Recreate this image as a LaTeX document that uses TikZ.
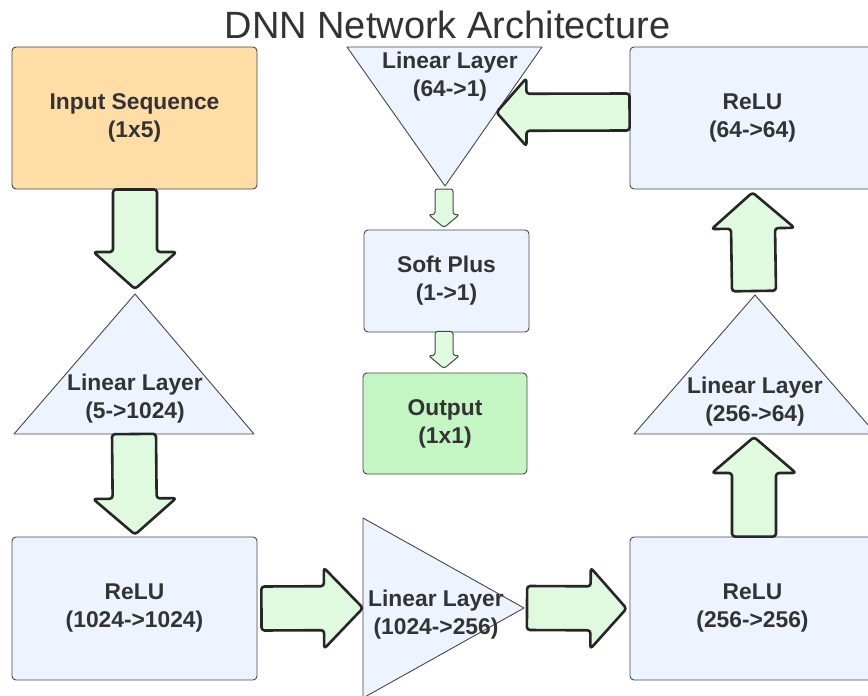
\documentclass[tikz,border=0pt]{standalone}
\usepackage{fontspec}
\setmainfont{Liberation Sans}
\usetikzlibrary{calc}
\definecolor{txt}{HTML}{333333}
\definecolor{bfill}{HTML}{EDF4FF}
\definecolor{ofill}{HTML}{FFDDA6}
\definecolor{gfill}{HTML}{C3F6C3}
\definecolor{afill}{HTML}{E0FAE0}
\definecolor{edge}{HTML}{484848}
\definecolor{aedge}{HTML}{262626}
\tikzset{
  lbl/.style={text=txt, font=\fontsize{22.8}{28}\selectfont\bfseries, align=center, inner sep=0pt},
  box/.style={lbl, draw=edge, line width=0.9pt, rounded corners=4pt, fill=bfill},
  tri/.style={draw=edge, line width=0.9pt, fill=bfill, line join=round},
  barrow/.style={draw=aedge, line width=2.6pt, fill=afill, rounded corners=3pt, line join=round},
  sarrow/.style={draw=edge, line width=1pt, fill=afill, rounded corners=2.5pt, line join=round}
}
% #1 style, #2 start, #3 end, #4 shaft half width, #5 head half width, #6 head length
\newcommand\blockarrow[6]{%
  \coordinate (ba-h) at ($(#3)!#6!(#2)$);
  \draw[#1] ($(#2)!#4!90:(#3)$) -- ($(ba-h)!#4!90:(#3)$) -- ($(ba-h)!#5!90:(#3)$)
    -- (#3) -- ($(ba-h)!#5!-90:(#3)$) -- ($(ba-h)!#4!-90:(#3)$) -- ($(#2)!#4!-90:(#3)$) -- cycle;
}
\begin{document}
\begin{tikzpicture}[x=1pt,y=-1pt]
\useasboundingbox (0,0) rectangle (868,696);
\clip (0,0) rectangle (868,696);
\fill[white] (0,0) rectangle (868,696);

% title
\node[text=txt, font=\fontsize{38}{42}\selectfont, inner sep=0pt, anchor=base] (title) at (447.5,38.5) {DNN Network Architecture};

% boxes
\node[box, fill=ofill, minimum width=245pt, minimum height=142pt] (in) at (134.5,118) {Input Sequence\\(1x5)};
\node[box, minimum width=245pt, minimum height=143pt] (relu1) at (134.5,608.5) {ReLU\\(1024->1024)};
\node[box, minimum width=245pt, minimum height=143pt] (relu2) at (752.5,608.5) {ReLU\\(256->256)};
\node[box, minimum width=245pt, minimum height=142pt] (relu3) at (752.5,118) {ReLU\\(64->64)};
\node[box, minimum width=165pt, minimum height=102pt] (soft) at (446.5,281) {Soft Plus\\(1->1)};
\node[box, fill=gfill, minimum width=164pt, minimum height=101pt] (out) at (445,423.5) {Output\\(1x1)};

% triangles
\coordinate (t1a) at (135,294); \coordinate (t1l) at (14,434); \coordinate (t1r) at (254,434);
\draw[tri] (t1a) -- (t1r) -- (t1l) -- cycle;
\node[lbl] (t1) at (135,399) {Linear Layer\\(5->1024)};

\coordinate (t3t) at (363,518); \coordinate (t3b) at (363,698); \coordinate (t3a) at (524,608);
\draw[tri] (t3t) -- (t3a) -- (t3b) -- cycle;
\node[lbl] (t3) at (436,614.5) {Linear Layer\\(1024->256)};

\coordinate (t2a) at (755,295); \coordinate (t2l) at (634,434); \coordinate (t2r) at (876,434);
\draw[tri] (t2a) -- (t2r) -- (t2l) -- cycle;
\node[lbl] (t2) at (755,402) {Linear Layer\\(256->64)};

\coordinate (t4l) at (347,47); \coordinate (t4r) at (542,47); \coordinate (t4a) at (445,186);
\draw[tri] (t4l) -- (t4r) -- (t4a) -- cycle;
\node[lbl] (t4) at (450,76.5) {Linear Layer\\(64->1)};

% block arrows
\blockarrow{barrow}{$(in.south)+(0.5,0)$}{$(t1a)+(0,-5)$}{22pt}{41.5pt}{37pt}
\blockarrow{barrow}{$(t1l)!0.5!(t1r)$}{$(relu1.north)+(0.5,-2)$}{22pt}{41.5pt}{36pt}
\blockarrow{barrow}{$(relu1.east)+(4,0)$}{$(t3t)!0.5!(t3b)$}{22pt}{40.5pt}{39pt}
\blockarrow{barrow}{$(t3a)+(3,0)$}{$(relu2.west)+(-3,0)$}{22pt}{40.5pt}{36pt}
\blockarrow{barrow}{$(relu2.north)+(1.5,0)$}{$(t2l)!0.5!(t2r)+(-1,3)$}{22pt}{42pt}{36pt}
\blockarrow{barrow}{$(t2a)+(-1,-4)$}{$(relu3.south)+(0,3)$}{22pt}{41.5pt}{36pt}
\blockarrow{barrow}{$(relu3.west)+(0,-6)$}{$(t4r)!0.47!(t4a)$}{18.5pt}{34pt}{30pt}
\blockarrow{sarrow}{$(t4a)+(-1,3)$}{$(soft.north)+(-2.5,-2)$}{9pt}{15.5pt}{13pt}
\blockarrow{sarrow}{$(soft.south)+(-2.5,-1)$}{$(out.north)+(-1,-4)$}{9pt}{15.5pt}{13pt}
\end{tikzpicture}
\end{document}
